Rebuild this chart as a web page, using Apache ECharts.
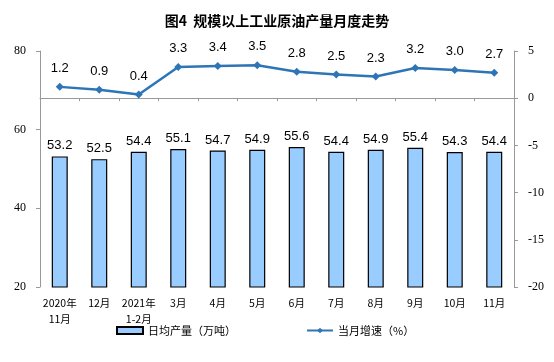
<!DOCTYPE html>
<html><head><meta charset="utf-8">
<script src="https://cdn.jsdelivr.net/npm/echarts@6/dist/echarts.min.js"></script>
<style>html,body{margin:0;padding:0;background:#fff}#c{width:554px;height:362px}</style>
</head><body><div id="c"></div>
<script>
var categories = ['2020年\n11月','12月','2021年\n1-2月','3月','4月','5月','6月','7月','8月','9月','10月','11月'];
var output = [53.2, 52.5, 54.4, 55.1, 54.7, 54.9, 55.6, 54.4, 54.9, 55.4, 54.3, 54.4];
var growth = [1.2, 0.9, 0.4, 3.3, 3.4, 3.5, 2.8, 2.5, 2.3, 3.2, 3.0, 2.7];
var leftTicks = [20, 80, 20];   // min, max, interval
var rightTicks = [-20, 5, 5];

var chart = echarts.init(document.getElementById('c'));
var axisNum = {fontFamily:'Liberation Serif', fontSize:12, color:'#000'};
chart.setOption({
  animation:false,
  title:{text:'图4  规模以上工业原油产量月度走势', left:'center', top:9,
    textStyle:{fontFamily:'Noto Sans CJK SC', fontSize:14, fontWeight:'bold', color:'#000'}},
  grid:{left:40, right:40, top:51, bottom:75},
  legend:{bottom:21, left:111, itemGap:70, itemWidth:26, itemHeight:7,
    textStyle:{fontFamily:'Noto Sans CJK SC', fontSize:11, color:'#000'},
    data:[{name:'日均产量（万吨）', icon:'rect'}, {name:'当月增速（%）'}]},
  xAxis:{type:'category', data:categories,
    axisLine:{lineStyle:{color:'#999'}}, axisTick:{show:true, lineStyle:{color:'#999'}, length:3},
    axisLabel:{interval:0, fontFamily:'Noto Sans CJK SC', fontSize:10.5, color:'#000', margin:8, lineHeight:16}},
  yAxis:[
    {type:'value', min:leftTicks[0], max:leftTicks[1], interval:leftTicks[2],
     splitLine:{show:false}, axisLine:{show:true, lineStyle:{color:'#999'}},
     axisTick:{show:true, length:4, lineStyle:{color:'#999'}}, axisLabel:Object.assign({margin:14}, axisNum)},
    {type:'value', min:rightTicks[0], max:rightTicks[1], interval:rightTicks[2],
     splitLine:{show:false}, axisLine:{show:true, lineStyle:{color:'#999'}},
     axisTick:{show:true, length:4, lineStyle:{color:'#999'}}, axisLabel:Object.assign({margin:14}, axisNum)}
  ],
  series:[
    {name:'日均产量（万吨）', type:'bar', data:output, barWidth:16, yAxisIndex:0,
     itemStyle:{color:'#99CCFF', borderColor:'#000', borderWidth:1.2},
     label:{show:true, position:'top', distance:4, fontFamily:'Liberation Sans', fontSize:13, color:'#000',
       formatter:function(p){return p.value.toFixed(1);}}},
    {name:'当月增速（%）', type:'line', data:growth, yAxisIndex:1,
     symbol:'diamond', symbolSize:8, lineStyle:{color:'#2E75B6', width:2.5},
     itemStyle:{color:'#2E75B6'},
     label:{show:true, position:'top', distance:8, fontFamily:'Liberation Sans', fontSize:13, color:'#000',
       formatter:function(p){return p.value.toFixed(1);}}}
  ]
});
</script></body></html>
